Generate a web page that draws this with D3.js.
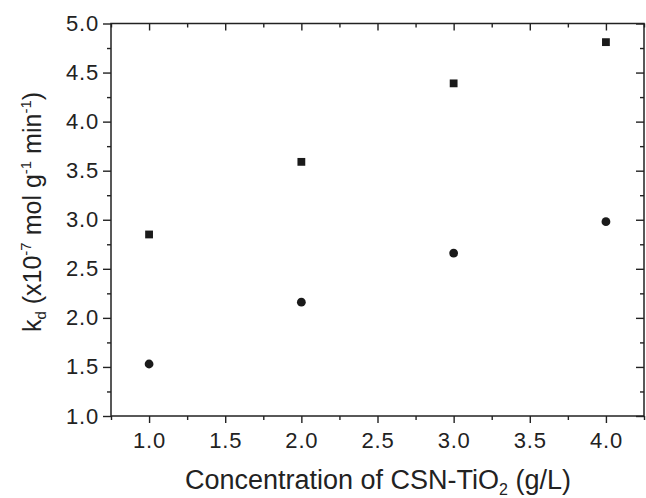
<!DOCTYPE html>
<html><head><meta charset="utf-8">
<script src="https://cdn.jsdelivr.net/npm/d3@7"></script>
<style>body{margin:0;background:#fff;} svg{display:block;} text{font-family:"Liberation Sans",Arial,sans-serif;fill:#222;}</style>
</head><body>
<svg id="c" width="646" height="498"></svg>
<script>
const concentration = [1.0, 2.0, 3.0, 4.0];
const seriesSquare = [2.85, 3.59, 4.39, 4.81];
const seriesCircle = [1.53, 2.16, 2.66, 2.98];
const xMajorTicks = [1.0, 1.5, 2.0, 2.5, 3.0, 3.5, 4.0];
const xMinorTicks = [0.75, 1.25, 1.75, 2.25, 2.75, 3.25, 3.75, 4.25];
const yMajorTicks = [1.0, 1.5, 2.0, 2.5, 3.0, 3.5, 4.0, 4.5, 5.0];
const yMinorTicks = [1.25, 1.75, 2.25, 2.75, 3.25, 3.75, 4.25, 4.75];

const svg = d3.select("#c");
const L = 111, R = 644, T = 23.5, B = 416;
const x = d3.scaleLinear().domain([0.75, 4.25]).range([L, R]);
const y = d3.scaleLinear().domain([1, 5]).range([B, T]);
const col = "#222";
const fmt = d3.format(".1f");

function style(g){ g.selectAll("path,line").attr("stroke", col).attr("stroke-width", 1.4); g.select(".domain").remove(); }

// bottom
svg.append("g").attr("transform",`translate(0,${B})`)
  .call(d3.axisBottom(x).tickValues(xMajorTicks).tickSize(7).tickPadding(9).tickFormat(fmt))
  .call(style).call(g=>g.selectAll("text").attr("font-size",22).attr("letter-spacing",0.8).attr("fill",col));
svg.append("g").attr("transform",`translate(0,${B})`)
  .call(d3.axisBottom(x).tickValues(xMinorTicks).tickSize(4).tickFormat(""))
  .call(style);
// top
svg.append("g").attr("transform",`translate(0,${T})`)
  .call(d3.axisBottom(x).tickValues(xMajorTicks).tickSize(7).tickFormat(""))
  .call(style);
svg.append("g").attr("transform",`translate(0,${T})`)
  .call(d3.axisBottom(x).tickValues(xMinorTicks).tickSize(4).tickFormat(""))
  .call(style);
// left
svg.append("g").attr("transform",`translate(${L},0)`)
  .call(d3.axisLeft(y).tickValues(yMajorTicks).tickSize(8).tickPadding(4).tickFormat(fmt))
  .call(style).call(g=>g.selectAll("text").attr("font-size",22).attr("letter-spacing",0.8).attr("fill",col));
svg.append("g").attr("transform",`translate(${L},0)`)
  .call(d3.axisLeft(y).tickValues(yMinorTicks).tickSize(4).tickFormat(""))
  .call(style);
// right (inward)
svg.append("g").attr("transform",`translate(${R},0)`)
  .call(d3.axisLeft(y).tickValues(yMajorTicks).tickSize(8).tickFormat(""))
  .call(style);
svg.append("g").attr("transform",`translate(${R},0)`)
  .call(d3.axisLeft(y).tickValues(yMinorTicks).tickSize(4).tickFormat(""))
  .call(style);

// frame
svg.append("rect").attr("x",L).attr("y",T).attr("width",R-L).attr("height",B-T)
  .attr("fill","none").attr("stroke",col).attr("stroke-width",1.5);

// points
svg.append("g").selectAll("rect").data(concentration).join("rect")
  .attr("x",(d,i)=>x(d)-3.9).attr("y",(d,i)=>y(seriesSquare[i])-3.9)
  .attr("width",7.8).attr("height",7.8).attr("fill","#1a1a1a");
svg.append("g").selectAll("circle").data(concentration).join("circle")
  .attr("cx",d=>x(d)).attr("cy",(d,i)=>y(seriesCircle[i])).attr("r",4.4).attr("fill","#1a1a1a");

// x title
const xt = svg.append("text").attr("x",378).attr("y",489).attr("text-anchor","middle").attr("font-size",27);
xt.append("tspan").text("Concentration of CSN-TiO");
xt.append("tspan").attr("font-size",16).attr("dy",6).text("2");
xt.append("tspan").attr("dy",-6).text(" (g/L)");

// y title
const yt = svg.append("text").attr("transform",`translate(41,212) rotate(-90)`).attr("text-anchor","middle").attr("font-size",25);
yt.append("tspan").text("k");
yt.append("tspan").attr("font-size",15).attr("dy",5).text("d");
yt.append("tspan").attr("dy",-5).text(" (x10");
yt.append("tspan").attr("font-size",15).attr("dy",-10).text("-7");
yt.append("tspan").attr("dy",10).text(" mol g");
yt.append("tspan").attr("font-size",15).attr("dy",-10).text("-1");
yt.append("tspan").attr("dy",10).text(" min");
yt.append("tspan").attr("font-size",15).attr("dy",-10).text("-1");
yt.append("tspan").attr("dy",10).text(")");
</script>
</body></html>
